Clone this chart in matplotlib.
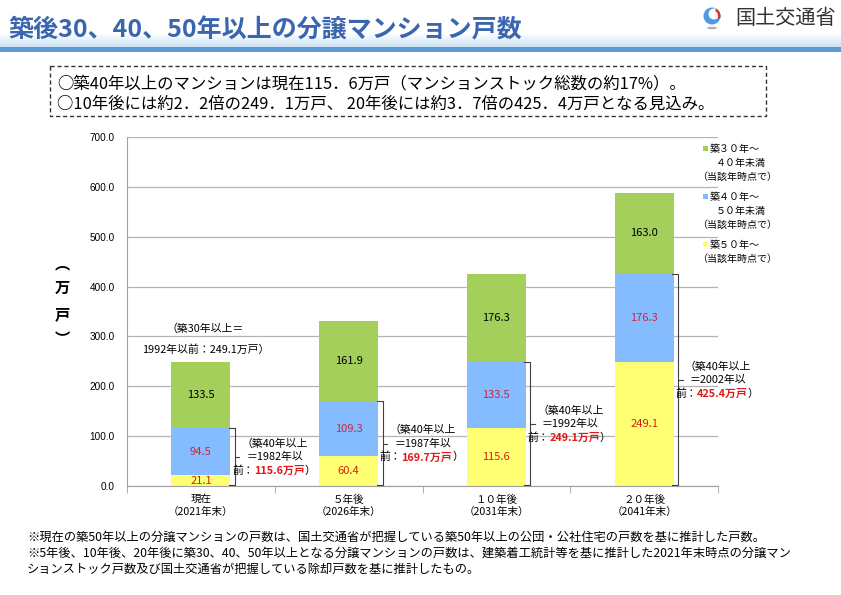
import numpy as np
import matplotlib
matplotlib.use('Agg')
import matplotlib.pyplot as plt
from matplotlib.patches import Rectangle, Circle, Wedge, Ellipse

plt.rcParams['font.family'] = ['Noto Sans CJK JP', 'DejaVu Sans']

# data (万戸)
categories = ['現在\n（2021年末）', '５年後\n（2026年末）', '１０年後\n（2031年末）', '２０年後\n（2041年末）']
age_50_plus = [21.1, 60.4, 115.6, 249.1]
age_40_50 = [94.5, 109.3, 133.5, 176.3]
age_30_40 = [133.5, 161.9, 176.3, 163.0]
cutoff_years = [1982, 1987, 1992, 2002]
y_ticks = [0, 100, 200, 300, 400, 500, 600, 700]

legend_lines = [
    ['築３０年～', '４０年未満', '（当該年時点で）'],
    ['築４０年～', '５０年未満', '（当該年時点で）'],
    ['築５０年～', '（当該年時点で）'],
]

title = '築後30、40、50年以上の分譲マンション戸数'
box_lines = ['○築40年以上のマンションは現在115．6万戸（マンションストック総数の約17%）。',
             '○10年後には約2．2倍の249．1万戸、 20年後には約3．7倍の425．4万戸となる見込み。']
notes = ['※現在の築50年以上の分譲マンションの戸数は、国土交通省が把握している築50年以上の公団・公社住宅の戸数を基に推計した戸数。',
         '※5年後、10年後、20年後に築30、40、50年以上となる分譲マンションの戸数は、建築着工統計等を基に推計した2021年末時点の分譲マン',
         'ションストック戸数及び国土交通省が把握している除却戸数を基に推計したもの。']

GREEN = '#A4CF5B'
BLUE = '#85BBFF'
YELLOW = '#FFFF73'
RED = '#E01818'

W, H = 841, 595
fig = plt.figure(figsize=(W / 100, H / 100), dpi=100)

# main chart
ax = fig.add_axes([127 / W, 1 - 486 / H, 591 / W, 349 / H])
ax.set_facecolor('none')
x = np.arange(len(categories))
bw = 0.4
mid = np.add(age_50_plus, age_40_50)
top = mid + np.array(age_30_40)
ax.bar(x, age_50_plus, bw, color=YELLOW, zorder=2)
ax.bar(x, age_40_50, bw, bottom=age_50_plus, color=BLUE, zorder=2)
ax.bar(x, age_30_40, bw, bottom=mid, color=GREEN, zorder=2)

fs_ann = 7.8
for i in x:
    ax.text(i, age_50_plus[i] / 2, f'{age_50_plus[i]:.1f}', ha='center', va='center',
            fontsize=8, color='#D42010', zorder=3)
    ax.text(i, age_50_plus[i] + age_40_50[i] / 2, f'{age_40_50[i]:.1f}', ha='center', va='center',
            fontsize=8, color='#C8283C', zorder=3)
    ax.text(i, mid[i] + age_30_40[i] / 2, f'{age_30_40[i]:.1f}', ha='center', va='center',
            fontsize=8, color='black', zorder=3)

    # bracket for the 40+ years part
    xr = i + bw / 2 + 0.03
    ax.plot([xr - 0.04, xr, xr, xr - 0.04], [mid[i], mid[i], 3, 3], color='#404040', lw=0.8,
            clip_on=False, zorder=3)
    ym = mid[i] / 2
    ax.plot([xr, xr + 0.03], [ym, ym], color='#404040', lw=0.8, clip_on=False, zorder=3)
    cx = i + 0.5
    ax.text(cx, ym + 27, '（築40年以上', ha='center', va='center', fontsize=fs_ann)
    ax.text(cx, ym, f'＝{cutoff_years[i]}年以', ha='center', va='center', fontsize=fs_ann)
    t = ax.text(cx + 0.03, ym - 27, f'{mid[i]:.1f}万戸', ha='center', va='center', fontsize=fs_ann,
                color=RED, fontweight='bold')
    ax.annotate('前：', xy=(0, 0.5), xycoords=t, ha='right', va='center', fontsize=fs_ann)
    ax.annotate('）', xy=(1, 0.5), xycoords=t, ha='left', va='center', fontsize=fs_ann)

ax.text(0.03, 315, '（築30年以上＝', ha='center', va='center', fontsize=fs_ann)
ax.text(0.03, 273, f'{cutoff_years[2]}年以前：{top[0]:.1f}万戸）', ha='center', va='center', fontsize=fs_ann)

ax.set_xlim(-0.5, 3.5)
ax.set_ylim(0, 700)
ax.set_yticks(y_ticks)
ax.set_yticklabels([f'{v:.1f}' for v in y_ticks], fontsize=7.2, family=['Liberation Sans', 'DejaVu Sans'])
ax.yaxis.grid(True, color='#B4B4B4', lw=0.9, zorder=0)
ax.set_axisbelow(True)
for s in ['top', 'right']:
    ax.spines[s].set_visible(False)
for s in ['left', 'bottom']:
    ax.spines[s].set_color('#A0A0A0')
ax.tick_params(axis='y', length=0, pad=9)
ax.set_xticks(x)
ax.set_xticklabels(categories, fontsize=7.6, linespacing=1.3)
ax.tick_params(axis='x', which='major', length=0, pad=6)
ax.set_xticks(np.arange(-0.5, 4, 1), minor=True)
ax.tick_params(axis='x', which='minor', length=5, color='#A0A0A0')

# overlay in pixel coordinates for the page decorations
ov = fig.add_axes([0, 0, 1, 1], zorder=5)
ov.set_xlim(0, W)
ov.set_ylim(H, 0)
ov.axis('off')
ov.patch.set_visible(False)

# header band
grad = np.linspace(0, 1, 50).reshape(-1, 1)
light = np.array([0.80, 0.89, 0.96])
band = (1 - grad)[..., None] * np.array([1.0, 1.0, 1.0]) + grad[..., None] * light
ov.imshow(band, extent=(0, W, 47, 33), aspect='auto', zorder=0)
ov.add_patch(Rectangle((0, 47), W, 5, color='#5B9BCF', lw=0, zorder=1))
ov.text(8, 30, title, fontsize=18, fontweight='bold', color='#3A66B0', va='center', ha='left')

# logo
ov.add_patch(Circle((712, 16), 8.5, color='#4C9BE0', lw=0))
ov.add_patch(Circle((714, 14), 5.5, color='white', lw=0))
ov.add_patch(Wedge((712, 16), 8.5, 300, 20, width=2.5, color='#E03030', lw=0))
ov.add_patch(Ellipse((712, 28), 10, 2.5, color='#B0B0B0', lw=0))
ov.text(735, 18, '国土交通省', fontsize=14.5, color='#333333', va='center', ha='left')

# dashed summary box
ov.add_patch(Rectangle((50, 66), 716, 50, fill=False, ec='#333333', lw=1, ls=(0, (3, 2))))
ov.text(57, 84, box_lines[0], fontsize=11.8, va='center', ha='left')
ov.text(57, 104, box_lines[1], fontsize=11.8, va='center', ha='left')

# y label
for ch, yy in zip(['︵', '万', '戸', '︶'], [263, 288, 314, 339]):
    ov.text(62, yy, ch, fontsize=11, fontweight='bold', ha='center', va='center')

# legend
leg_colors = [GREEN, BLUE, YELLOW]
leg_y = [149, 197, 245]
for col, lines, y0 in zip(leg_colors, legend_lines, leg_y):
    ov.add_patch(Rectangle((703, y0 - 3), 5, 5, color=col, lw=0))
    for k, line in enumerate(lines):
        if line.startswith('（'):
            ov.text(697, y0 + 14 * k, line, fontsize=7.2, va='center', ha='left')
        elif k == 0:
            ov.text(710, y0, line, fontsize=7.2, va='center', ha='left')
        else:
            ov.text(716, y0 + 14 * k, line, fontsize=7.2, va='center', ha='left')

# footnotes
for k, line in enumerate(notes):
    ov.text(27, 537 + 16 * k, line, fontsize=8.8, va='center', ha='left')

fig.savefig('out.png', dpi=100)
